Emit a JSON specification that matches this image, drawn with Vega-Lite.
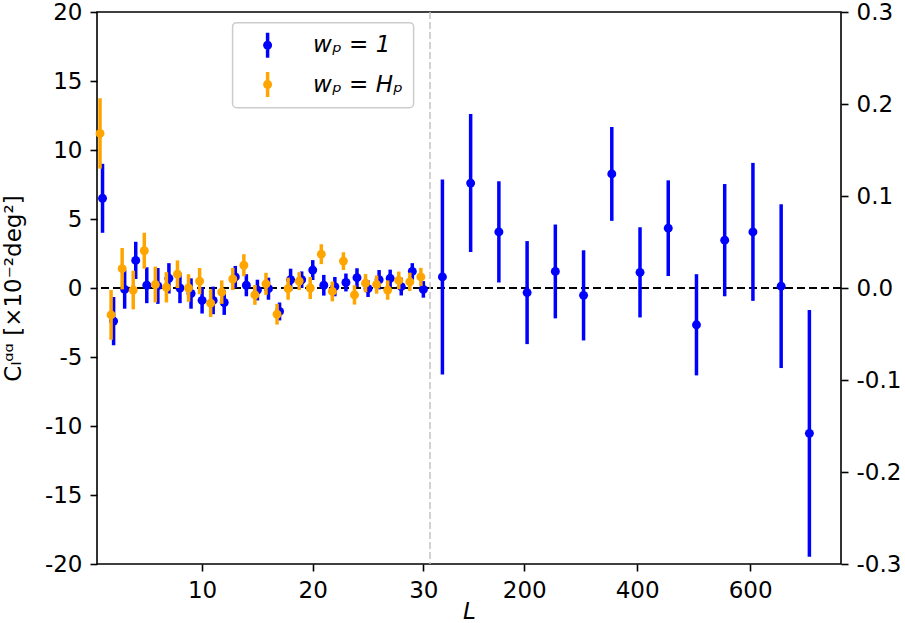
{
  "$schema": "https://vega.github.io/schema/vega-lite/v6.json",
  "width": 744,
  "height": 552,
  "autosize": {"type": "none"},
  "padding": {"left": 97, "top": 12, "right": 64, "bottom": 59},
  "datasets": {
    "low": [
      {"L": 1, "series": "wₚ = 1", "C": 6.5, "lo": 4.0, "hi": 9.0},
      {"L": 2, "series": "wₚ = 1", "C": -2.4, "lo": -4.15, "hi": -0.65},
      {"L": 3, "series": "wₚ = 1", "C": -0.1, "lo": -1.5, "hi": 1.3},
      {"L": 4, "series": "wₚ = 1", "C": 2.0, "lo": 0.65, "hi": 3.35},
      {"L": 5, "series": "wₚ = 1", "C": 0.2, "lo": -1.1, "hi": 1.5},
      {"L": 6, "series": "wₚ = 1", "C": 0.15, "lo": -1.15, "hi": 1.45},
      {"L": 7, "series": "wₚ = 1", "C": 0.7, "lo": -0.4, "hi": 1.8},
      {"L": 8, "series": "wₚ = 1", "C": 0.0, "lo": -1.1, "hi": 1.1},
      {"L": 9, "series": "wₚ = 1", "C": -0.4, "lo": -1.5, "hi": 0.7},
      {"L": 10, "series": "wₚ = 1", "C": -0.9, "lo": -1.85, "hi": 0.05},
      {"L": 11, "series": "wₚ = 1", "C": -0.9, "lo": -1.9, "hi": 0.1},
      {"L": 12, "series": "wₚ = 1", "C": -1.05, "lo": -1.95, "hi": -0.15},
      {"L": 13, "series": "wₚ = 1", "C": 0.8, "lo": 0.0, "hi": 1.6},
      {"L": 14, "series": "wₚ = 1", "C": 0.2, "lo": -0.6, "hi": 1.0},
      {"L": 15, "series": "wₚ = 1", "C": -0.15, "lo": -0.9, "hi": 0.6},
      {"L": 16, "series": "wₚ = 1", "C": -0.05, "lo": -0.85, "hi": 0.75},
      {"L": 17, "series": "wₚ = 1", "C": -1.7, "lo": -2.35, "hi": -1.05},
      {"L": 18, "series": "wₚ = 1", "C": 0.6, "lo": -0.2, "hi": 1.4},
      {"L": 19, "series": "wₚ = 1", "C": 0.6, "lo": 0.0, "hi": 1.2},
      {"L": 20, "series": "wₚ = 1", "C": 1.3, "lo": 0.58, "hi": 2.02},
      {"L": 21, "series": "wₚ = 1", "C": 0.2, "lo": -0.55, "hi": 0.95},
      {"L": 22, "series": "wₚ = 1", "C": 0.1, "lo": -0.6, "hi": 0.8},
      {"L": 23, "series": "wₚ = 1", "C": 0.4, "lo": -0.25, "hi": 1.05},
      {"L": 24, "series": "wₚ = 1", "C": 0.75, "lo": 0.07, "hi": 1.43},
      {"L": 25, "series": "wₚ = 1", "C": -0.05, "lo": -0.65, "hi": 0.55},
      {"L": 26, "series": "wₚ = 1", "C": 0.6, "lo": -0.1, "hi": 1.3},
      {"L": 27, "series": "wₚ = 1", "C": 0.7, "lo": 0.07, "hi": 1.33},
      {"L": 28, "series": "wₚ = 1", "C": 0.1, "lo": -0.54, "hi": 0.74},
      {"L": 29, "series": "wₚ = 1", "C": 1.2, "lo": 0.6, "hi": 1.8},
      {"L": 30, "series": "wₚ = 1", "C": -0.1, "lo": -0.7, "hi": 0.5},
      {"L": 1, "series": "wₚ = Hₚ", "C": 11.2, "lo": 8.65, "hi": 13.75},
      {"L": 2, "series": "wₚ = Hₚ", "C": -1.95, "lo": -3.75, "hi": -0.15},
      {"L": 3, "series": "wₚ = Hₚ", "C": 1.4, "lo": -0.1, "hi": 2.9},
      {"L": 4, "series": "wₚ = Hₚ", "C": -0.15, "lo": -1.55, "hi": 1.25},
      {"L": 5, "series": "wₚ = Hₚ", "C": 2.7, "lo": 1.4, "hi": 4.0},
      {"L": 6, "series": "wₚ = Hₚ", "C": 0.25, "lo": -1.05, "hi": 1.55},
      {"L": 7, "series": "wₚ = Hₚ", "C": 0.05, "lo": -1.05, "hi": 1.15},
      {"L": 8, "series": "wₚ = Hₚ", "C": 1.0, "lo": 0.0, "hi": 2.0},
      {"L": 9, "series": "wₚ = Hₚ", "C": 0.0, "lo": -1.0, "hi": 1.0},
      {"L": 10, "series": "wₚ = Hₚ", "C": 0.5, "lo": -0.45, "hi": 1.45},
      {"L": 11, "series": "wₚ = Hₚ", "C": -1.1, "lo": -2.1, "hi": -0.1},
      {"L": 12, "series": "wₚ = Hₚ", "C": -0.3, "lo": -1.15, "hi": 0.55},
      {"L": 13, "series": "wₚ = Hₚ", "C": 0.65, "lo": -0.15, "hi": 1.45},
      {"L": 14, "series": "wₚ = Hₚ", "C": 1.65, "lo": 0.85, "hi": 2.45},
      {"L": 15, "series": "wₚ = Hₚ", "C": -0.5, "lo": -1.22, "hi": 0.22},
      {"L": 16, "series": "wₚ = Hₚ", "C": 0.3, "lo": -0.5, "hi": 1.1},
      {"L": 17, "series": "wₚ = Hₚ", "C": -1.9, "lo": -2.65, "hi": -1.15},
      {"L": 18, "series": "wₚ = Hₚ", "C": -0.05, "lo": -0.85, "hi": 0.75},
      {"L": 19, "series": "wₚ = Hₚ", "C": 0.5, "lo": -0.15, "hi": 1.15},
      {"L": 20, "series": "wₚ = Hₚ", "C": 0.0, "lo": -0.8, "hi": 0.8},
      {"L": 21, "series": "wₚ = Hₚ", "C": 2.45, "lo": 1.73, "hi": 3.17},
      {"L": 22, "series": "wₚ = Hₚ", "C": -0.25, "lo": -0.97, "hi": 0.47},
      {"L": 23, "series": "wₚ = Hₚ", "C": 1.95, "lo": 1.31, "hi": 2.59},
      {"L": 24, "series": "wₚ = Hₚ", "C": -0.5, "lo": -1.2, "hi": 0.2},
      {"L": 25, "series": "wₚ = Hₚ", "C": 0.35, "lo": -0.31, "hi": 1.01},
      {"L": 26, "series": "wₚ = Hₚ", "C": 0.25, "lo": -0.41, "hi": 0.91},
      {"L": 27, "series": "wₚ = Hₚ", "C": -0.15, "lo": -0.85, "hi": 0.55},
      {"L": 28, "series": "wₚ = Hₚ", "C": 0.55, "lo": -0.09, "hi": 1.19},
      {"L": 29, "series": "wₚ = Hₚ", "C": 0.45, "lo": -0.21, "hi": 1.11},
      {"L": 30, "series": "wₚ = Hₚ", "C": 0.8, "lo": 0.14, "hi": 1.46}
    ],
    "high": [
      {"L": 55, "C": 0.012, "lo": -0.094, "hi": 0.118},
      {"L": 105, "C": 0.114, "lo": 0.039, "hi": 0.189},
      {"L": 155, "C": 0.061, "lo": 0.006, "hi": 0.116},
      {"L": 205, "C": -0.005, "lo": -0.061, "hi": 0.051},
      {"L": 255, "C": 0.018, "lo": -0.033, "hi": 0.069},
      {"L": 305, "C": -0.008, "lo": -0.057, "hi": 0.041},
      {"L": 355, "C": 0.124, "lo": 0.073, "hi": 0.175},
      {"L": 405, "C": 0.017, "lo": -0.032, "hi": 0.066},
      {"L": 455, "C": 0.065, "lo": 0.013, "hi": 0.117},
      {"L": 505, "C": -0.04, "lo": -0.095, "hi": 0.015},
      {"L": 555, "C": 0.052, "lo": -0.009, "hi": 0.113},
      {"L": 605, "C": 0.061, "lo": -0.014, "hi": 0.136},
      {"L": 655, "C": 0.002, "lo": -0.087, "hi": 0.091},
      {"L": 705, "C": -0.158, "lo": -0.292, "hi": -0.024}
    ]
  },
  "config": {
    "font": "DejaVu Sans",
    "view": {"stroke": "#000000", "strokeWidth": 1.6},
    "axis": {
      "domain": false,
      "grid": false,
      "tickColor": "#000000",
      "tickWidth": 1.6,
      "tickSize": 7,
      "labelFont": "DejaVu Sans",
      "labelFontSize": 23,
      "labelColor": "#000000",
      "labelPadding": 8,
      "labelOverlap": false,
      "labelFlush": false,
      "titleFont": "DejaVu Sans",
      "titleFontSize": 23,
      "titleColor": "#000000",
      "titleFontWeight": "normal"
    },
    "legend": {
      "orient": "none",
      "legendX": 135.6,
      "legendY": 10.7,
      "padding": 10,
      "strokeColor": "#cccccc",
      "strokeWidth": 1.5,
      "fillColor": "rgba(255,255,255,0.8)",
      "cornerRadius": 4,
      "rowPadding": 14.4,
      "symbolOffset": 12.5,
      "labelOffset": 33,
      "symbolSize": 625,
      "symbolStrokeWidth": 0,
      "symbolType": "M-0.14,-1H0.14V1H-0.14Z M0.36,0A0.36,0.36,0,1,1,-0.36,0A0.36,0.36,0,1,1,0.36,0Z",
      "labelFont": "DejaVu Sans",
      "labelFontSize": 23,
      "labelFontStyle": "italic",
      "labelColor": "#000000",
      "labelLimit": 300
    }
  },
  "resolve": {"scale": {"y": "independent"}, "axis": {"y": "independent"}},
  "layer": [
    {
      "layer": [
        {
          "data": {"values": [{"C": 0}]},
          "mark": {"type": "rule", "color": "#000000", "strokeWidth": 2, "strokeDash": [8, 4]},
          "encoding": {
            "y": {"field": "C", "type": "quantitative", "scale": {"domain": [-20, 20], "nice": false, "zero": false}}
          }
        },
        {
          "data": {"values": [{"L": 30.6}]},
          "mark": {"type": "rule", "color": "#c4c4c4", "strokeWidth": 1.5, "strokeDash": [7, 3]},
          "encoding": {
            "x": {"field": "L", "type": "quantitative", "scale": {"domain": [0.5, 30.6, 33, 761], "range": [0, 333, 333, 744], "nice": false, "zero": false}}
          }
        },
        {
          "data": {"name": "low"},
          "transform": [{"filter": "datum.series === 'wₚ = 1'"}],
          "mark": {"type": "rule", "strokeWidth": 3.5},
          "encoding": {
            "x": {"field": "L", "type": "quantitative", "scale": {"domain": [0.5, 30.6, 33, 761], "range": [0, 333, 333, 744], "nice": false, "zero": false}},
            "y": {"field": "lo", "type": "quantitative", "scale": {"domain": [-20, 20], "nice": false, "zero": false}},
            "y2": {"field": "hi"},
            "color": {"field": "series", "type": "nominal", "scale": {"domain": ["wₚ = 1", "wₚ = Hₚ"], "range": ["#0000ff", "#ffa500"]}}
          }
        },
        {
          "data": {"name": "low"},
          "transform": [{"filter": "datum.series === 'wₚ = 1'"}],
          "mark": {"type": "circle", "size": 80, "opacity": 1},
          "encoding": {
            "x": {"field": "L", "type": "quantitative", "scale": {"domain": [0.5, 30.6, 33, 761], "range": [0, 333, 333, 744], "nice": false, "zero": false}},
            "y": {"field": "C", "type": "quantitative", "scale": {"domain": [-20, 20], "nice": false, "zero": false}},
            "color": {"field": "series", "type": "nominal", "scale": {"domain": ["wₚ = 1", "wₚ = Hₚ"], "range": ["#0000ff", "#ffa500"]}}
          }
        },
        {
          "data": {"name": "low"},
          "transform": [{"filter": "datum.series === 'wₚ = Hₚ'"}],
          "mark": {"type": "rule", "strokeWidth": 3.5, "xOffset": -2.5},
          "encoding": {
            "x": {"field": "L", "type": "quantitative", "scale": {"domain": [0.5, 30.6, 33, 761], "range": [0, 333, 333, 744], "nice": false, "zero": false}},
            "y": {"field": "lo", "type": "quantitative", "scale": {"domain": [-20, 20], "nice": false, "zero": false}},
            "y2": {"field": "hi"},
            "color": {"field": "series", "type": "nominal", "scale": {"domain": ["wₚ = 1", "wₚ = Hₚ"], "range": ["#0000ff", "#ffa500"]}}
          }
        },
        {
          "data": {"name": "low"},
          "transform": [{"filter": "datum.series === 'wₚ = Hₚ'"}],
          "mark": {"type": "circle", "size": 80, "opacity": 1, "xOffset": -2.5},
          "encoding": {
            "x": {
              "field": "L",
              "type": "quantitative",
              "scale": {"domain": [0.5, 30.6, 33, 761], "range": [0, 333, 333, 744], "nice": false, "zero": false},
              "axis": {
                "values": [10, 20, 30, 200, 400, 600],
                "format": "d",
                "title": "L",
                "titleFontStyle": "italic",
                "titleY": 54,
                "titleBaseline": "alphabetic"
              }
            },
            "y": {
              "field": "C",
              "type": "quantitative",
              "scale": {"domain": [-20, 20], "nice": false, "zero": false},
              "axis": {
                "orient": "left",
                "values": [-20, -15, -10, -5, 0, 5, 10, 15, 20],
                "labelExpr": "datum.value < 0 ? '-' + format(-datum.value, 'd') : format(datum.value, 'd')",
                "title": "Cₗᵅᵅ [×10⁻²deg²]",
                "titleX": -77,
                "titleY": 276,
                "titleAngle": -90,
                "titleAlign": "center",
                "titleBaseline": "alphabetic"
              }
            },
            "color": {
              "field": "series",
              "type": "nominal",
              "scale": {"domain": ["wₚ = 1", "wₚ = Hₚ"], "range": ["#0000ff", "#ffa500"]},
              "legend": {"title": null}
            }
          }
        }
      ]
    },
    {
      "data": {"name": "high"},
      "layer": [
        {
          "mark": {"type": "rule", "strokeWidth": 3.5, "color": "#0000ff"},
          "encoding": {
            "x": {"field": "L", "type": "quantitative", "scale": {"domain": [0.5, 30.6, 33, 761], "range": [0, 333, 333, 744], "nice": false, "zero": false}},
            "y": {"field": "lo", "type": "quantitative", "scale": {"domain": [-0.3, 0.3], "nice": false, "zero": false}},
            "y2": {"field": "hi"}
          }
        },
        {
          "mark": {"type": "circle", "size": 80, "opacity": 1, "color": "#0000ff"},
          "encoding": {
            "x": {"field": "L", "type": "quantitative", "scale": {"domain": [0.5, 30.6, 33, 761], "range": [0, 333, 333, 744], "nice": false, "zero": false}},
            "y": {
              "field": "C",
              "type": "quantitative",
              "scale": {"domain": [-0.3, 0.3], "nice": false, "zero": false},
              "axis": {
                "orient": "right",
                "values": [-0.3, -0.2, -0.1, 0, 0.1, 0.2, 0.3],
                "labelExpr": "datum.value < 0 ? '-' + format(-datum.value, '.1f') : format(datum.value, '.1f')",
                "title": null
              }
            }
          }
        }
      ]
    }
  ]
}
